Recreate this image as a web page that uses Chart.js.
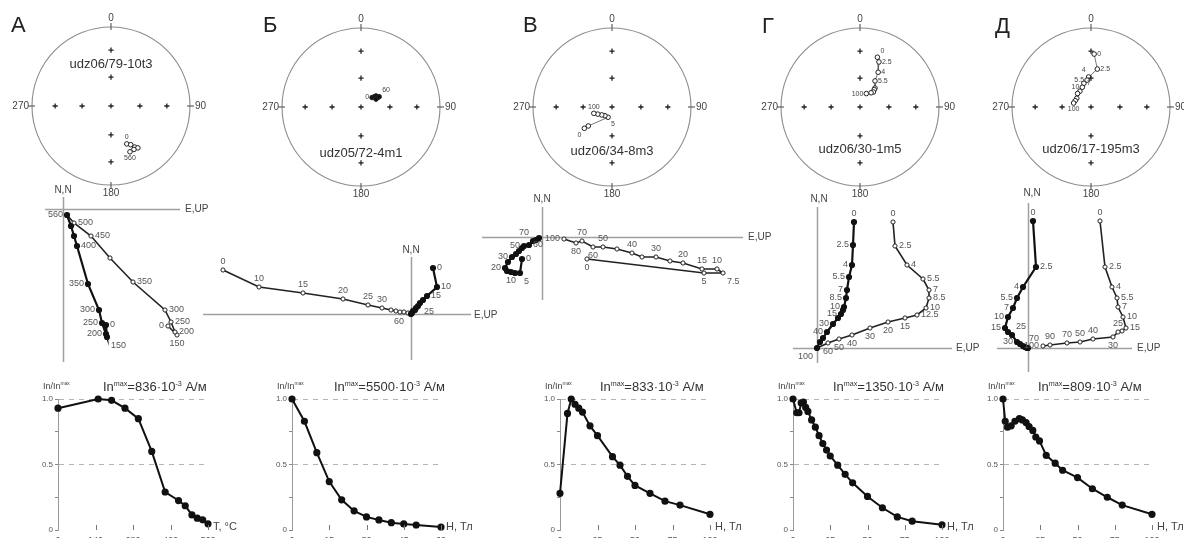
<!DOCTYPE html>
<html lang="ru">
<head>
<meta charset="utf-8">
<title>Размагничивание образцов</title>
<script src="https://cdn.jsdelivr.net/npm/chart.js@4.4.1/dist/chart.umd.min.js"></script>
<style>
  body { margin: 0; background: #fff; overflow: hidden; }
  #fig { position: relative; width: 1184px; height: 538px; overflow: hidden; font-family: "Liberation Sans", Arial, sans-serif; color: #333; }
  #fig canvas { position: absolute; }
  .txt { position: absolute; white-space: nowrap; line-height: 1; }
  .txt sup { font-size: 0.55em; vertical-align: 0.65em; line-height: 0; }
</style>
</head>
<body>
<div id="fig"></div>
<script>
// ---- labels ----
const panels = ['А', 'Б', 'В', 'Г', 'Д'];
const samples = ['udz06/79-10t3', 'udz05/72-4m1', 'udz06/34-8m3', 'udz06/30-1m5', 'udz06/17-195m3'];
const inMax = [836, 5500, 833, 1350, 809];
const xNames = ['T, °C', 'H, Тл', 'H, Тл', 'H, Тл', 'H, Тл'];
const netDirs = ['0', '90', '180', '270'];
const netRings = [0.366, 0.707];   // 60° and 30° inclination on the equal-area net

// ---- stereonets (east, north on unit net) ----
const netA_E = [0.20, 0.25, 0.30, 0.34, 0.29, 0.24];
const netA_N = [-0.48, -0.49, -0.52, -0.53, -0.55, -0.58];
const netA_steps = ['0', '', '', '', '', '560'];

const netB_E = [0.14, 0.17, 0.19, 0.21, 0.19, 0.23];
const netB_N = [0.12, 0.13, 0.14, 0.12, 0.10, 0.13];
const netB_steps = ['0', '', '', '', '', '60'];

const netV_E = [-0.35, -0.30, -0.05, -0.09, -0.13, -0.18, -0.23];
const netV_N = [-0.27, -0.24, -0.13, -0.11, -0.10, -0.09, -0.08];
const netV_steps = ['0', '', '5', '', '', '', '100'];

const netG_E = [0.22, 0.24, 0.23, 0.19, 0.19, 0.18, 0.17, 0.14, 0.08];
const netG_N = [0.63, 0.57, 0.44, 0.33, 0.24, 0.22, 0.19, 0.18, 0.17];
const netG_steps = ['0', '2.5', '4', '5.5', '', '', '', '', '100'];

const netD_E = [0.04, 0.08, -0.03, -0.05, -0.09, -0.11, -0.14, -0.17, -0.18, -0.20, -0.22];
const netD_N = [0.67, 0.48, 0.38, 0.34, 0.30, 0.25, 0.20, 0.17, 0.11, 0.08, 0.05];
const netD_steps = ['0', '2.5', '4', '5.5', '7', '10', '', '', '', '', '100'];

// ---- Zijderveld diagrams (h = horizontal plane, v = vertical plane) ----
const zA_hE = [43, 44, 43, 39, 36, 25, 14, 11, 8, 4];
const zA_hN = [-116, -128, -125, -114, -101, -75, -37, -27, -17, -6];
const zA_vE = [105, 114, 112, 108, 102, 70, 47, 28, 11, 4];
const zA_vU = [-117, -126, -123, -113, -101, -73, -49, -27, -14, -6];
const zA_hLab = ['0', '150', '200', '250', '300', '350', '400', '', '', '560'];
const zA_vLab = ['0', '150', '200', '250', '300', '350', '', '450', '500', ''];

const zB_hE = [22, 26, 16, 12, 9, 7, 5, 4, 2, 1, 0];
const zB_hN = [46, 27, 18, 14, 11, 8, 6, 4, 3, 1, 0];
const zB_vE = [-188, -152, -108, -68, -43, -29, -20, -15, -11, -7, -3];
const zB_vU = [44, 27, 21, 15, 9, 6, 4, 3, 2, 2, 1];
const zB_hLab = ['0', '10', '15', '', '25', '', '', '', '', '', ''];
const zB_vLab = ['0', '10', '15', '20', '25', '30', '', '', '', '', '60'];

const zV_hE = [-20, -22, -27, -31, -35, -37, -34, -30, -26, -23, -20, -18, -13, -9, -6, -3];
const zV_hN = [-22, -36, -36, -35, -34, -31, -25, -20, -17, -14, -11, -9, -8, -4, -3, -1];
const zV_vE = [45, 162, 181, 175, 160, 141, 128, 114, 100, 90, 75, 61, 51, 40, 34, 22];
const zV_vU = [-22, -36, -36, -32, -32, -26, -24, -20, -20, -16, -12, -10, -10, -4, -6, -2];
const zV_hLab = ['0', '5', '', '10', '', '20', '', '30', '', '', '', '50', '60', '70', '', ''];
const zV_vLab = ['0', '5', '7.5', '10', '15', '20', '', '30', '', '40', '', '50', '60', '70', '80', '100'];

const zG_hE = [37, 36, 35, 32, 30, 29, 27, 26, 24, 21, 16, 10, 6, 3, 0];
const zG_hN = [126, 103, 83, 71, 58, 50, 41, 38, 34, 30, 24, 16, 10, 6, 0];
const zG_vE = [76, 78, 90, 106, 112, 112, 109, 100, 88, 71, 53, 35, 22, 11, 0];
const zG_vU = [126, 102, 83, 69, 58, 50, 40, 33, 30, 26, 20, 13, 9, 5, 0];
const zG_hLab = ['0', '2.5', '4', '5.5', '7', '8.5', '10', '', '15', '', '30', '40', '', '', '100'];
const zG_vLab = ['0', '2.5', '4', '5.5', '7', '8.5', '10', '12.5', '15', '20', '30', '40', '50', '60', ''];

const zD_hE = [5, 8, -5, -11, -15, -20, -23, -20, -16, -11, -8, -5, -3, -1, 0];
const zD_hN = [127, 81, 61, 50, 40, 31, 20, 16, 13, 6, 4, 2, 1, 0, 0];
const zD_vE = [72, 77, 84, 89, 90, 95, 98, 94, 90, 85, 65, 52, 39, 22, 15];
const zD_vU = [127, 81, 61, 50, 41, 31, 20, 17, 16, 11, 9, 6, 5, 3, 2];
const zD_hLab = ['0', '2.5', '4', '5.5', '7', '10', '15', '', '25', '30', '', '', '70', '', ''];
const zD_vLab = ['0', '2.5', '4', '5.5', '7', '10', '15', '', '25', '30', '40', '50', '70', '90', '100'];

// ---- normalised NRM curves ----
const curveA_T = [0, 150, 200, 250, 300, 350, 400, 450, 475, 500, 520, 540, 560];
const curveA_v = [0.93, 1.0, 0.99, 0.93, 0.85, 0.60, 0.29, 0.225, 0.185, 0.115, 0.09, 0.078, 0.047];
const curveB_H = [0, 5, 10, 15, 20, 25, 30, 35, 40, 45, 50, 60];
const curveB_v = [1.0, 0.83, 0.59, 0.37, 0.23, 0.146, 0.10, 0.077, 0.056, 0.046, 0.038, 0.023];
const curveV_H = [0, 5, 7.5, 10, 12.5, 15, 20, 25, 35, 40, 45, 50, 60, 70, 80, 100];
const curveV_v = [0.28, 0.89, 1.0, 0.96, 0.93, 0.90, 0.795, 0.72, 0.56, 0.495, 0.41, 0.34, 0.28, 0.22, 0.19, 0.12];
const curveG_H = [0, 2.5, 4, 5.5, 7, 8.5, 10, 12.5, 15, 17.5, 20, 22.5, 25, 30, 35, 40, 50, 60, 70, 80, 100];
const curveG_v = [1.0, 0.895, 0.895, 0.97, 0.977, 0.936, 0.905, 0.84, 0.785, 0.72, 0.66, 0.61, 0.565, 0.495, 0.425, 0.36, 0.256, 0.17, 0.10, 0.067, 0.04];
const curveD_H = [0, 1.5, 3, 5.5, 8, 11, 13, 15.5, 17.5, 20, 22, 24.5, 29, 35, 40, 50, 60, 70, 80, 100];
const curveD_v = [1.0, 0.83, 0.785, 0.795, 0.83, 0.85, 0.84, 0.82, 0.79, 0.76, 0.71, 0.68, 0.57, 0.51, 0.456, 0.40, 0.315, 0.25, 0.19, 0.12];

const ticksT = [0, 140, 280, 420, 560];
const ticksB = [0, 15, 30, 45, 60];
const ticksH = [0, 25, 50, 75, 100];
const yTickText = { 0: '0', 0.5: '0.5', 1: '1.0' };

// ---------------------------------------------------------------
Chart.defaults.font.family = '"Liberation Sans", Arial, sans-serif';
const fig = document.getElementById('fig');
const R = 79;
const base = { responsive: false, animation: false, events: [] };
const pts = (xs, ys) => xs.map((v, i) => ({ x: v, y: ys[i] }));

function addCanvas(left, top, w, h) {
  const c = document.createElement('canvas');
  c.width = w; c.height = h;
  c.style.left = left + 'px'; c.style.top = top + 'px';
  c.style.width = w + 'px'; c.style.height = h + 'px';
  fig.appendChild(c);
  return c;
}

function addText(html, x, y, size, align, color) {
  const d = document.createElement('div');
  d.className = 'txt';
  d.innerHTML = html;
  d.style.left = x + 'px';
  d.style.top = y + 'px';
  d.style.fontSize = size + 'px';
  if (color) d.style.color = color;
  const tx = align === 'c' ? '-50%' : align === 'r' ? '-100%' : '0';
  d.style.transform = 'translate(' + tx + ', -50%)';
  fig.appendChild(d);
}

// step labels next to points
const pointLabels = {
  id: 'pointLabels',
  afterDatasetsDraw(chart, args, opts) {
    const ctx = chart.ctx;
    ctx.save();
    ctx.font = opts.size + 'px "Liberation Sans", Arial, sans-serif';
    ctx.fillStyle = opts.color;
    opts.sets.forEach(s => {
      chart.getDatasetMeta(s.ds).data.forEach((p, i) => {
        const txt = s.text[i];
        if (!txt) return;
        const side = s.side[i] || 'r';
        const d = opts.gap;
        let x = p.x, y = p.y, al = 'center', bl = 'middle';
        if (side.includes('r')) { x += d; al = 'left'; }
        if (side.includes('l')) { x -= d; al = 'right'; }
        if (side.includes('t')) { y -= d; bl = 'bottom'; }
        if (side.includes('b')) { y += d; bl = 'top'; }
        ctx.textAlign = al;
        ctx.textBaseline = bl;
        ctx.fillText(txt, x, y);
      });
    });
    ctx.restore();
  }
};

// circle, edge ticks and azimuth labels of the net
const netFrame = {
  id: 'netFrame',
  beforeDatasetsDraw(chart) {
    const { ctx, scales: { x, y } } = chart;
    const cx = x.getPixelForValue(0), cy = y.getPixelForValue(0);
    const r = x.getPixelForValue(1) - cx;
    ctx.save();
    ctx.strokeStyle = '#8c8c8c';
    ctx.lineWidth = 1.1;
    ctx.beginPath();
    ctx.arc(cx, cy, r, 0, Math.PI * 2);
    ctx.stroke();
    ctx.strokeStyle = '#555';
    [[0, -1], [1, 0], [0, 1], [-1, 0]].forEach(([dx, dy]) => {
      ctx.beginPath();
      ctx.moveTo(cx + dx * (r - 3), cy + dy * (r - 3));
      ctx.lineTo(cx + dx * (r + 4), cy + dy * (r + 4));
      ctx.stroke();
    });
    ctx.fillStyle = '#444';
    ctx.font = '10px "Liberation Sans", Arial, sans-serif';
    ctx.textAlign = 'center';
    ctx.textBaseline = 'bottom';
    ctx.fillText(netDirs[0], cx, cy - r - 4);
    ctx.textBaseline = 'top';
    ctx.fillText(netDirs[2], cx, cy + r + 3);
    ctx.textBaseline = 'middle';
    ctx.textAlign = 'left';
    ctx.fillText(netDirs[1], cx + r + 5, cy);
    ctx.textAlign = 'right';
    ctx.fillText(netDirs[3], cx - r - 3, cy);
    ctx.restore();
  }
};

// crossed axes through the origin of a Zijderveld plot
const zAxes = {
  id: 'zAxes',
  beforeDatasetsDraw(chart) {
    const { ctx, chartArea: a, scales: { x, y } } = chart;
    const x0 = Math.round(x.getPixelForValue(0)) + 0.5, y0 = Math.round(y.getPixelForValue(0)) + 0.5;
    ctx.save();
    ctx.strokeStyle = '#a0a0a0';
    ctx.lineWidth = 1.5;
    ctx.beginPath();
    ctx.moveTo(x0, a.top); ctx.lineTo(x0, a.bottom);
    ctx.moveTo(a.left, y0); ctx.lineTo(a.right, y0);
    ctx.stroke();
    ctx.restore();
  }
};

// x tick marks pointing up into the plot
const upTicks = {
  id: 'upTicks',
  afterDraw(chart) {
    const { ctx, chartArea: a, scales: { x } } = chart;
    ctx.save();
    ctx.strokeStyle = '#777';
    ctx.lineWidth = 1;
    x.ticks.forEach(t => {
      if (t.value === 0) return;
      const px = Math.round(x.getPixelForValue(t.value)) + 0.5;
      ctx.beginPath();
      ctx.moveTo(px, a.bottom);
      ctx.lineTo(px, a.bottom - 5);
      ctx.stroke();
    });
    ctx.restore();
  }
};

// ---- stereonets ----
const netCenters = [[111, 106], [361, 107], [612, 107], [860, 107], [1091, 107]];
const crossPts = [{ x: 0, y: 0 }];
netRings.forEach(v => crossPts.push({ x: 0, y: v }, { x: 0, y: -v }, { x: v, y: 0 }, { x: -v, y: 0 }));

function makeNet(i, E, N, steps, side, filled) {
  const [cx, cy] = netCenters[i], p = 30;
  const cv = addCanvas(cx - R - p, cy - R - p, 2 * (R + p), 2 * (R + p));
  new Chart(cv, {
    type: 'scatter',
    data: {
      datasets: [
        { data: crossPts, pointStyle: 'cross', pointRadius: 2.6, borderColor: '#222', pointBorderWidth: 1.3, clip: false },
        { data: pts(E, N), showLine: true, borderColor: '#555', borderWidth: 0.8,
          pointRadius: 2.3, pointBorderWidth: 1, pointBorderColor: '#222',
          pointBackgroundColor: filled ? '#111' : '#fff', clip: false }
      ]
    },
    options: {
      ...base,
      layout: { padding: p },
      scales: { x: { display: false, min: -1, max: 1 }, y: { display: false, min: -1, max: 1 } },
      plugins: {
        legend: { display: false }, tooltip: { enabled: false },
        pointLabels: { size: 7, color: '#444', gap: 3, sets: [{ ds: 1, text: steps, side: side }] }
      }
    },
    plugins: [netFrame, pointLabels]
  });
}

makeNet(0, netA_E, netA_N, netA_steps, ['t', '', '', '', '', 'b'], false);
makeNet(1, netB_E, netB_N, netB_steps, ['l', '', '', '', '', 'tr'], true);
makeNet(2, netV_E, netV_N, netV_steps, ['bl', '', 'br', '', '', '', 't'], false);
makeNet(3, netG_E, netG_N, netG_steps, ['tr', 'r', 'r', 'r', '', '', '', '', 'l'], false);
makeNet(4, netD_E, netD_N, netD_steps, ['r', 'r', 'tl', 'l', 'r', 'l', '', '', '', '', 'b'], false);

// ---- Zijderveld diagrams ----
function makeZij(area, origin, hE, hN, hLab, hSide, vE, vU, vLab, vSide) {
  const [l, t, r, b] = area, [ox, oy] = origin, p = 28;
  const cv = addCanvas(l - p, t - p, r - l + 2 * p, b - t + 2 * p);
  new Chart(cv, {
    type: 'scatter',
    data: {
      datasets: [
        { data: pts(hE, hN), showLine: true, borderColor: '#111', borderWidth: 2.2,
          pointRadius: 2, pointBackgroundColor: '#111', pointBorderColor: '#111', clip: false },
        { data: pts(vE, vU), showLine: true, borderColor: '#222', borderWidth: 1.6,
          pointRadius: 2.1, pointBackgroundColor: '#fff', pointBorderColor: '#222', pointBorderWidth: 1, clip: false }
      ]
    },
    options: {
      ...base,
      layout: { padding: p },
      scales: {
        x: { display: false, min: l - ox, max: r - ox },
        y: { display: false, min: oy - b, max: oy - t }
      },
      plugins: {
        legend: { display: false }, tooltip: { enabled: false },
        pointLabels: { size: 9, color: '#555', gap: 4,
          sets: [{ ds: 0, text: hLab, side: hSide }, { ds: 1, text: vLab, side: vSide }] }
      }
    },
    plugins: [zAxes, pointLabels]
  });
}

makeZij([45, 197, 180, 362], [63, 209],
  zA_hE, zA_hN, zA_hLab, ['r', 'br', 'l', 'l', 'l', 'l', 'r', '', '', 'l'],
  zA_vE, zA_vU, zA_vLab, ['l', 'b', 'r', 'r', 'r', 'r', '', 'r', 'r', '']);
makeZij([203, 257, 471, 360], [411, 314],
  zB_hE, zB_hN, zB_hLab, ['r', 'r', 'r', '', 'br', '', '', '', '', '', ''],
  zB_vE, zB_vU, zB_vLab, ['t', 't', 't', 't', 't', 't', '', '', '', '', 'bl']);
makeZij([482, 207, 743, 300], [542, 237],
  zV_hE, zV_hN, zV_hLab, ['r', 'br', '', 'b', '', 'l', '', 'l', '', '', '', 'l', 'r', 'tl', '', ''],
  zV_vE, zV_vU, zV_vLab, ['b', 'b', 'br', 't', 't', 't', '', 't', '', 't', '', 't', 'b', 't', 'b', 'l']);
makeZij([793, 207, 952, 363], [817, 348],
  zG_hE, zG_hN, zG_hLab, ['t', 'l', 'l', 'l', 'l', 'l', 'l', '', 'l', '', 'l', 'l', '', '', 'bl'],
  zG_vE, zG_vU, zG_vLab, ['t', 'r', 'r', 'r', 'r', 'r', 'r', 'r', 'b', 'b', 'b', 'b', 'b', 'b', '']);
makeZij([997, 203, 1132, 372], [1028, 348],
  zD_hE, zD_hN, zD_hLab, ['t', 'r', 'l', 'l', 'l', 'l', 'l', '', 'tr', 'l', '', '', 'tr', '', ''],
  zD_vE, zD_vU, zD_vLab, ['t', 'r', 'r', 'r', 'r', 'r', 'r', '', 't', 'b', 't', 't', 't', 't', 'l']);

// ---- demagnetisation curves ----
const curveSpan = [[58, 208], [292, 441], [560, 710], [793, 942], [1003, 1152]];

function makeCurve(i, xs, ys, xMax, ticks) {
  const [l, r] = curveSpan[i];
  const top = 390, h = 162, padL = 10, yW = 22, xH = 14, padR = 18;
  const cv = addCanvas(l - padL - yW, top, r - l + padL + yW + padR, h);
  new Chart(cv, {
    type: 'scatter',
    data: {
      datasets: [{ data: pts(xs, ys), showLine: true, borderColor: '#111', borderWidth: 2,
        pointRadius: 2.6, pointBackgroundColor: '#111', pointBorderColor: '#111', clip: false }]
    },
    options: {
      ...base,
      layout: { padding: { left: padL, right: padR, top: 399 - top, bottom: top + h - 530 - xH } },
      plugins: { legend: { display: false }, tooltip: { enabled: false } },
      scales: {
        x: {
          type: 'linear', min: 0, max: xMax,
          afterBuildTicks: s => { s.ticks = ticks.map(v => ({ value: v })); },
          afterFit: s => { s.height = xH; },
          grid: { display: false, drawTicks: false },
          border: { display: false },
          ticks: { font: { size: 9 }, color: '#555', padding: 5, maxRotation: 0, autoSkip: false }
        },
        y: {
          min: 0, max: 1,
          afterFit: s => { s.width = yW; },
          ticks: { stepSize: 0.25, autoSkip: false, padding: 2, font: { size: 8 }, color: '#555',
            callback: v => yTickText[v] || '' },
          grid: {
            color: c => (c.tick && (c.tick.value === 0.5 || c.tick.value === 1)) ? '#b5b5b5' : 'rgba(0,0,0,0)',
            tickColor: '#888', tickLength: 3, lineWidth: 1
          },
          border: { display: true, color: '#999', width: 1, dash: c => c.type === 'tick' ? [5, 5] : [] }
        }
      }
    },
    plugins: [upTicks]
  });
}

makeCurve(0, curveA_T, curveA_v, 560, ticksT);
makeCurve(1, curveB_H, curveB_v, 60, ticksB);
makeCurve(2, curveV_H, curveV_v, 100, ticksH);
makeCurve(3, curveG_H, curveG_v, 100, ticksH);
makeCurve(4, curveD_H, curveD_v, 100, ticksH);

// ---- text ----
const letterPos = [[11, 25], [263, 25], [523, 25], [762, 26], [995, 26]];
const samplePos = [[111, 63], [361, 152], [612, 150], [860, 148], [1091, 148]];
const nnPos = [[63, 190], [411, 250], [542, 199], [819, 199], [1032, 193]];
const eupPos = [[185, 209], [474, 315], [748, 237], [956, 348], [1137, 348]];
const ratioX = [43, 277, 545, 778, 988];
const titleX = [103, 334, 600, 833, 1038];

panels.forEach((p, i) => {
  addText(p, letterPos[i][0], letterPos[i][1], 22, 'l', '#222');
  addText(samples[i], samplePos[i][0], samplePos[i][1], 13, 'c', '#333');
  addText('N,N', nnPos[i][0], nnPos[i][1], 10, 'c', '#444');
  addText('E,UP', eupPos[i][0], eupPos[i][1], 10, 'l', '#444');
  addText('In/In<sup>max</sup>', ratioX[i], 386, 9, 'l', '#444');
  addText('In<sup>max</sup>=' + inMax[i] + '·10<sup>-3</sup> А/м', titleX[i], 386, 13, 'l', '#333');
  addText(xNames[i], curveSpan[i][1] + 5, 526, 11, 'l', '#444');
});
</script>
</body>
</html>
